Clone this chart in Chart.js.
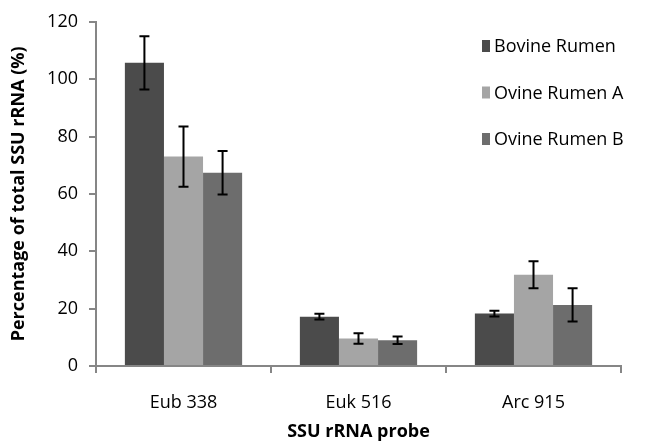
<!DOCTYPE html>
<html>
<head>
<meta charset="utf-8">
<script src="https://cdn.jsdelivr.net/npm/chart.js@4.4.0/dist/chart.umd.min.js"></script>
<style>
  html, body { margin: 0; padding: 0; background: #fff; }
  #wrap { width: 651px; height: 447px; }
</style>
</head>
<body>
<div id="wrap"><canvas id="chart" width="651" height="447"></canvas></div>
<script>
// ── Data ──
const probes = ['Eub 338', 'Euk 516', 'Arc 915'];
const seriesNames = ['Bovine Rumen', 'Ovine Rumen A', 'Ovine Rumen B'];
const bovine = [105.7, 17.2, 18.3];
const ovineA = [73.0, 9.6, 31.8];
const ovineB = [67.4, 9.0, 21.3];
const bovineErr = [9.3, 1.0, 1.0];
const ovineAErr = [10.5, 1.8, 4.7];
const ovineBErr = [7.6, 1.3, 5.8];
const yTicks = [0, 20, 40, 60, 80, 100, 120];

const COLORS = ['#4b4b4b', '#a5a5a5', '#6d6d6d'];
const AXIS = '#868686';
const FONT = "'Open Sans', sans-serif";

// ── error bars drawn from each bar's own scale position ──
const errorBars = {
  id: 'errorBars',
  afterDatasetsDraw(chart) {
    const { ctx, scales: { y } } = chart;
    ctx.save();
    ctx.strokeStyle = '#000';
    ctx.lineWidth = 2;
    chart.data.datasets.forEach((ds, i) => {
      const meta = chart.getDatasetMeta(i);
      meta.data.forEach((bar, j) => {
        const v = ds.data[j], e = ds.err[j];
        const top = y.getPixelForValue(v + e);
        const bot = y.getPixelForValue(v - e);
        const x = bar.x;
        ctx.beginPath();
        ctx.moveTo(x, top); ctx.lineTo(x, bot);
        ctx.moveTo(x - 5, top); ctx.lineTo(x + 5, top);
        ctx.moveTo(x - 5, bot); ctx.lineTo(x + 5, bot);
        ctx.stroke();
      });
    });
    ctx.restore();
  }
};

// ── legend overlaid at top right ──
const overlayLegend = {
  id: 'overlayLegend',
  afterDraw(chart) {
    const { ctx } = chart;
    ctx.save();
    ctx.font = '18px ' + FONT;
    ctx.textBaseline = 'middle';
    chart.data.datasets.forEach((ds, i) => {
      const cy = 46 + i * 46.5;
      ctx.fillStyle = ds.backgroundColor;
      ctx.fillRect(482, cy - 6, 8, 12);
      ctx.fillStyle = '#000';
      ctx.fillText(ds.label, 494, cy + 1);
    });
    ctx.restore();
  }
};

const values = [bovine, ovineA, ovineB];
const errs = [bovineErr, ovineAErr, ovineBErr];

new Chart(document.getElementById('chart'), {
  type: 'bar',
  data: {
    labels: probes,
    datasets: seriesNames.map((name, i) => ({
      label: name,
      data: values[i],
      err: errs[i],
      backgroundColor: COLORS[i],
      borderWidth: 0,
      categoryPercentage: 0.67,
      barPercentage: 1.0
    }))
  },
  options: {
    responsive: false,
    animation: false,
    layout: { padding: { left: 4, right: 30, top: 10, bottom: 0 } },
    plugins: {
      legend: { display: false },
      tooltip: { enabled: false }
    },
    scales: {
      x: {
        grid: { display: true, drawOnChartArea: false, offset: true, tickLength: 7, color: AXIS, lineWidth: 2 },
        border: { color: AXIS, width: 2 },
        ticks: { color: '#000', font: { family: FONT, size: 18 }, padding: 19 },
        title: { display: true, text: 'SSU rRNA probe', color: '#000', font: { family: FONT, size: 18, weight: 'bold' }, padding: { top: 2 } },
        afterFit(scale) { scale.height = 81; }
      },
      y: {
        min: 0, max: 120,
        afterBuildTicks(scale) { scale.ticks = yTicks.map(v => ({ value: v })); },
        grid: { display: true, drawOnChartArea: false, tickLength: 7, color: AXIS, lineWidth: 2 },
        border: { color: AXIS, width: 2 },
        ticks: { color: '#000', font: { family: FONT, size: 18 }, padding: 11 },
        title: { display: true, text: 'Percentage of total SSU rRNA (%)', color: '#000', font: { family: FONT, size: 18, weight: 'bold' }, padding: { bottom: 2 } },
        afterFit(scale) { scale.width = 92; }
      }
    }
  },
  plugins: [errorBars, overlayLegend]
});
</script>
</body>
</html>
